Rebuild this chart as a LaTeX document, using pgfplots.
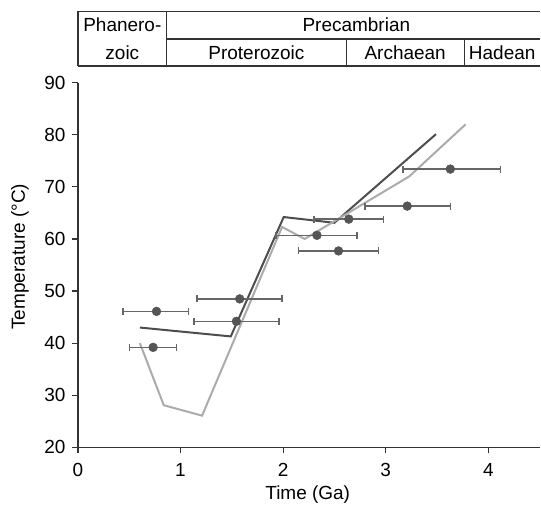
\documentclass[border=0pt]{standalone}
\usepackage{pgfplots}
\pgfplotsset{compat=1.18}
\usepackage{fontspec}
\setmainfont{Liberation Sans}
\definecolor{darkline}{HTML}{4D4D4D}
\definecolor{lightline}{HTML}{ABABAB}
\definecolor{ptcol}{HTML}{555555}
\definecolor{errcol}{HTML}{666666}
\definecolor{axcol}{HTML}{333333}
\begin{document}
\fontsize{19}{23}\selectfont
\begin{tikzpicture}
\begin{axis}[
  scale only axis, width=463pt, height=365.3pt,
  xmin=0, xmax=4.508, ymin=20, ymax=90,
  axis lines=left,
  axis line style={-, line width=1.2pt, color=axcol},
  tick align=outside, major tick length=6pt,
  tick style={line width=1.2pt, color=axcol},
  xtick={0,1,2,3,4}, ytick={20,30,40,50,60,70,80,90},
  /pgf/number format/assume math mode=true,
  tick label style={font=\fontsize{19}{23}\selectfont},
  xticklabel style={yshift=-3pt},
  clip=false,
]
% bounding box
\path (axis cs:-0.7595,9.27) rectangle (axis cs:4.508,105.84);
% model lines
\addplot[color=darkline, line width=2pt, no marks] coordinates {
 (0.604,43.0) (1.49,41.3) (2.006,64.2) (2.50,63.1) (3.49,80.1)};
\addplot[color=lightline, line width=2pt, no marks] coordinates {
 (0.604,40.0) (0.837,28.1) (1.21,26.1) (1.99,62.3) (2.21,60.0) (3.23,72.0) (3.78,82.0)};
% data points with x error bars
\addplot[only marks, mark=*, mark size=4.4pt, mark options={fill=ptcol, draw=ptcol, line width=0.5pt},
  error bars/.cd, x dir=both, x explicit,
  error bar style={color=errcol, line width=1.5pt},
  error mark options={rotate=90, color=errcol, mark size=3.5pt, line width=1.5pt}]
 coordinates {
 (0.766,46.1) += (0.314,0) -= (0.326,0)
 (0.733,39.2) += (0.23,0) -= (0.23,0)
 (1.577,48.5) += (0.413,0) -= (0.417,0)
 (1.545,44.2) += (0.415,0) -= (0.415,0)
 (2.33,60.7) += (0.39,0) -= (0.40,0)
 (2.54,57.7) += (0.39,0) -= (0.39,0)
 (2.64,63.8) += (0.34,0) -= (0.34,0)
 (3.21,66.3) += (0.42,0) -= (0.41,0)
 (3.63,73.4) += (0.49,0) -= (0.46,0)
 };
% geological time table
\draw[axcol, line width=1.2pt] (axis cs:0,93.19) -- (axis cs:0,103.6) -- (axis cs:4.508,103.6);
\draw[axcol, line width=1.2pt] (axis cs:0,93.19) -- (axis cs:4.508,93.19);
\draw[axcol, line width=1.2pt] (axis cs:0.864,93.19) -- (axis cs:0.864,103.6);
\draw[axcol, line width=1.2pt] (axis cs:0.864,98.37) -- (axis cs:4.508,98.37);
\draw[axcol, line width=1.2pt] (axis cs:2.616,93.19) -- (axis cs:2.616,98.37);
\draw[axcol, line width=1.2pt] (axis cs:3.768,93.19) -- (axis cs:3.768,98.37);
\node at (axis cs:0.433,101.05) {Phanero-};
\node at (axis cs:0.433,95.78) {zoic};
\node at (axis cs:2.714,101.05) {Precambrian};
\node at (axis cs:1.74,95.78) {Proterozoic};
\node at (axis cs:3.19,95.78) {Archaean};
\node[anchor=west, inner xsep=0pt] at (axis cs:3.81,95.78) {Hadean};
% axis labels
\node[rotate=90] at (axis cs:-0.565,56.6) {Temperature (°C)};
\node at (axis cs:2.24,11.0) {Time (Ga)};
\end{axis}
\end{tikzpicture}
\end{document}
